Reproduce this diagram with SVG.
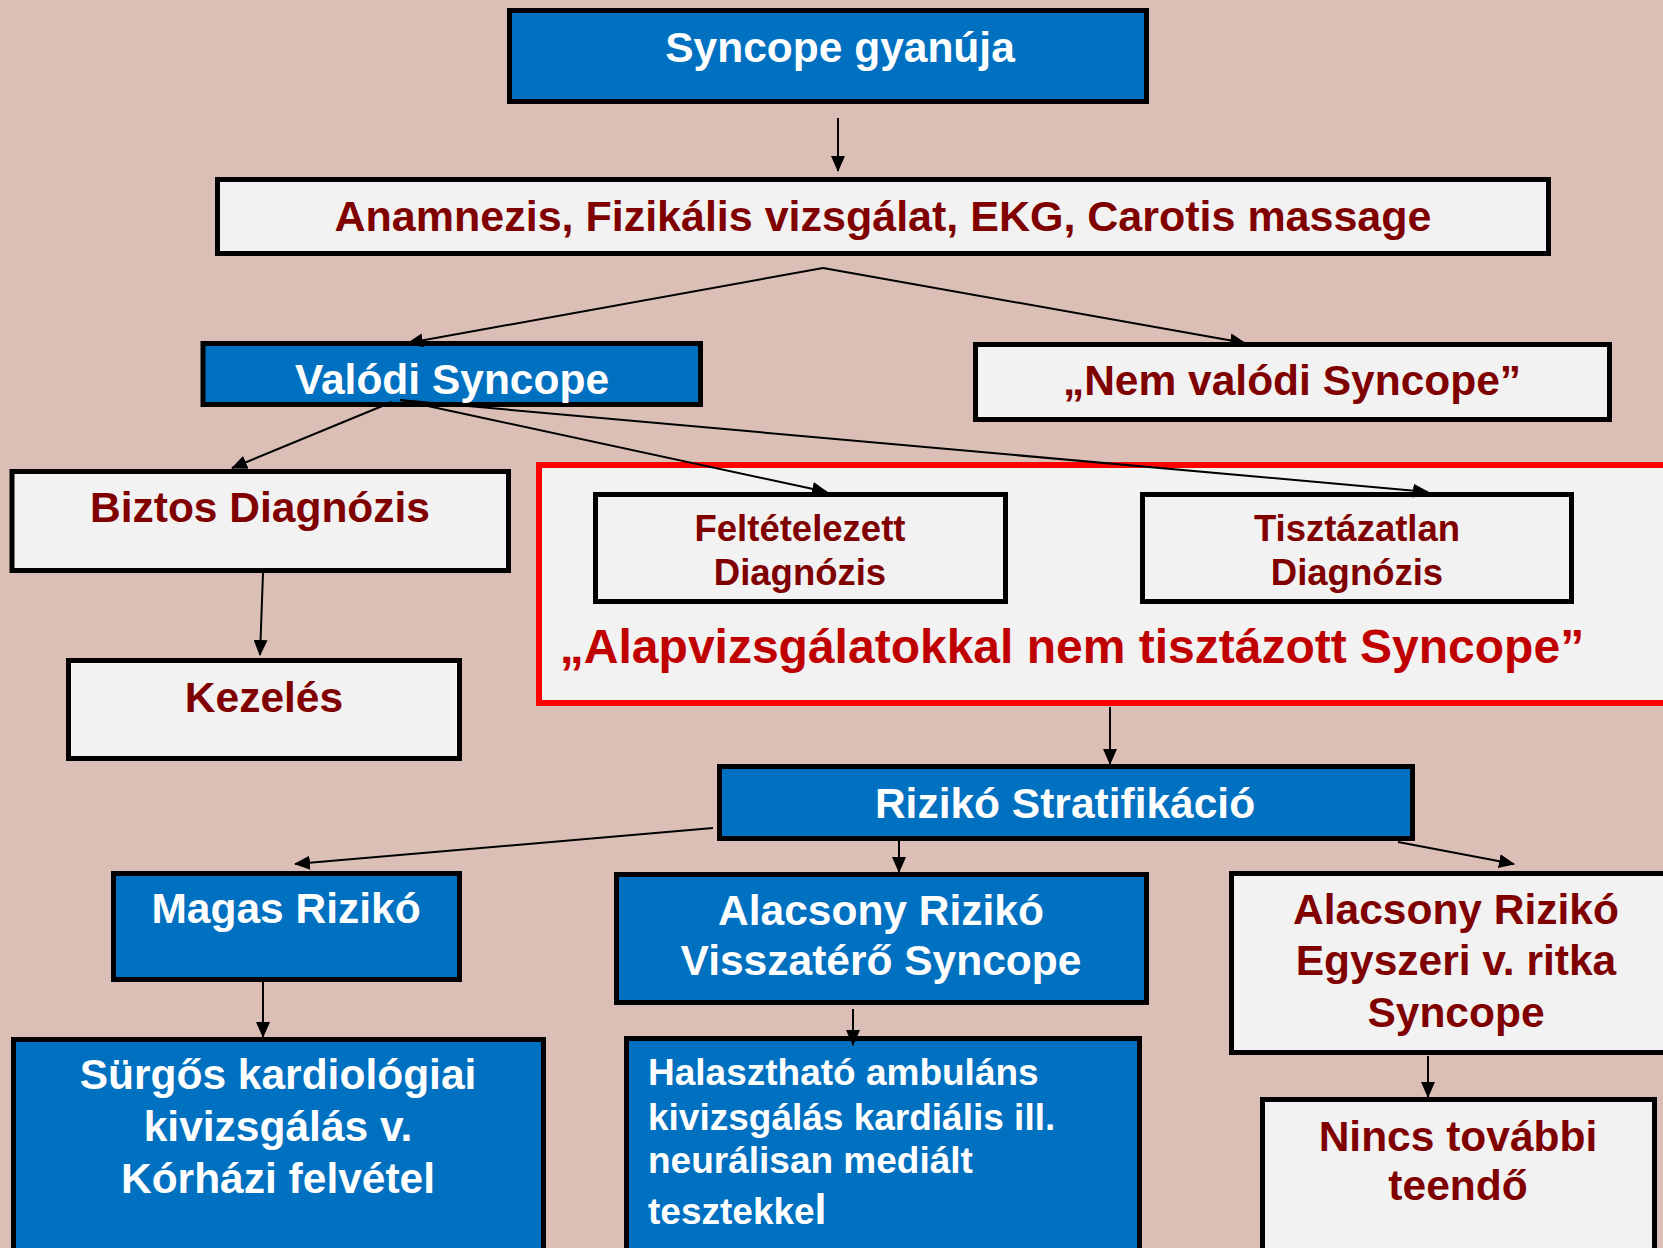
<svg xmlns="http://www.w3.org/2000/svg" width="1663" height="1248" viewBox="0 0 1663 1248">
<defs>
<marker id="ah" markerUnits="userSpaceOnUse" markerWidth="16" markerHeight="14" refX="15" refY="7" orient="auto">
<path d="M0,0 L16,7 L0,14 z" fill="#000"/>
</marker>
<style>
.box{stroke:#000;stroke-width:5}
.blue{fill:#0070C0}
.gray{fill:#F2F2F2}
.t{font-family:"Liberation Sans",Arial,sans-serif;font-weight:bold;text-anchor:middle}
.w{fill:#FFFFFF}
.r{fill:#800000}
.s42{font-size:42.5px}
.s36{font-size:36.5px}
.c{stroke:#000;stroke-width:2;fill:none;marker-end:url(#ah)}
</style>
</defs>
<rect x="0" y="0" width="1663" height="1248" fill="#DBBFB7"/>

<g id="red-group">
<rect x="539" y="465" width="1140" height="238" fill="#F2F2F2" stroke="#FF0000" stroke-width="6"/>
<text class="t" x="1072" y="663" font-size="48" fill="#C00000">„Alapvizsgálatokkal nem tisztázott Syncope”</text>
</g>

<g id="n-syncope">
<rect class="box blue" x="509.5" y="10.5" width="637" height="91"/>
<text class="t w s42" x="840" y="62">Syncope gyanúja</text>
</g>
<g id="n-anamnezis">
<rect class="box gray" x="217.5" y="179.5" width="1331" height="74"/>
<text class="t r" font-size="43" x="883" y="231">Anamnezis, Fizikális vizsgálat, EKG, Carotis massage</text>
</g>
<g id="n-valodi">
<rect class="box blue" x="203" y="343.5" width="497.5" height="61"/>
<text class="t w s42" x="452" y="394">Valódi Syncope</text>
</g>
<g id="n-nemvalodi">
<rect class="box gray" x="975.5" y="344.5" width="634" height="75"/>
<text class="t r s42" x="1292" y="395">„Nem valódi Syncope”</text>
</g>
<g id="n-biztos">
<rect class="box gray" x="12" y="471.5" width="496.5" height="99"/>
<text class="t r s42" x="260" y="522">Biztos Diagnózis</text>
</g>
<g id="n-kezeles">
<rect class="box gray" x="68.5" y="660.5" width="391" height="98"/>
<text class="t r s42" x="264" y="712">Kezelés</text>
</g>
<g id="n-feltetelezett">
<rect class="box gray" x="595.5" y="494.5" width="410" height="107"/>
<text class="t r s36" x="800" y="541">Feltételezett</text>
<text class="t r s36" x="800" y="585">Diagnózis</text>
</g>
<g id="n-tisztazatlan">
<rect class="box gray" x="1142.5" y="494.5" width="429" height="107"/>
<text class="t r s36" x="1357" y="541">Tisztázatlan</text>
<text class="t r s36" x="1357" y="585">Diagnózis</text>
</g>
<g id="n-rizikostrat">
<rect class="box blue" x="719.5" y="766.5" width="693" height="72"/>
<text class="t w s42" x="1065" y="818">Rizikó Stratifikáció</text>
</g>
<g id="n-magas">
<rect class="box blue" x="113.5" y="873.5" width="346" height="106"/>
<text class="t w s42" x="286" y="923">Magas Rizikó</text>
</g>
<g id="n-alacsony-vissza">
<rect class="box blue" x="616.5" y="874.5" width="530" height="128"/>
<text class="t w s42" x="881" y="925">Alacsony Rizikó</text>
<text class="t w s42" x="881" y="975">Visszatérő Syncope</text>
</g>
<g id="n-alacsony-egyszeri">
<rect class="box gray" x="1231.5" y="873.5" width="460" height="179"/>
<text class="t r s42" x="1456" y="924">Alacsony Rizikó</text>
<text class="t r s42" x="1456" y="975">Egyszeri v. ritka</text>
<text class="t r s42" x="1456" y="1027">Syncope</text>
</g>
<g id="n-surgos">
<rect class="box blue" x="13.5" y="1039.5" width="530" height="250"/>
<text class="t w s42" x="278" y="1089">Sürgős kardiológiai</text>
<text class="t w s42" x="278" y="1141">kivizsgálás v.</text>
<text class="t w s42" x="278" y="1193">Kórházi felvétel</text>
</g>
<g id="n-halaszthato">
<rect class="box blue" x="626.5" y="1038.5" width="513" height="250"/>
<text class="t w" font-size="37" x="648" y="1085" style="text-anchor:start">Halasztható ambuláns</text>
<text class="t w" font-size="37" x="648" y="1130" style="text-anchor:start">kivizsgálás kardiális ill.</text>
<text class="t w" font-size="37" x="648" y="1173" style="text-anchor:start">neurálisan mediált</text>
<text class="t w" font-size="37" x="648" y="1224" style="text-anchor:start">tesztekke<tspan font-size="43">l</tspan></text>
</g>
<g id="n-nincs">
<rect class="box gray" x="1262.5" y="1099.5" width="392" height="200"/>
<text class="t r s42" x="1458" y="1151">Nincs további</text>
<text class="t r s42" x="1458" y="1200">teendő</text>
</g>

<g id="connectors">
<line class="c" x1="838" y1="118" x2="838" y2="171"/>
<line class="c" x1="823" y1="268" x2="408" y2="343"/>
<line class="c" x1="823" y1="268" x2="1245" y2="343"/>
<line class="c" x1="392" y1="402" x2="232" y2="468"/>
<line class="c" x1="400" y1="400" x2="827" y2="492"/>
<line class="c" x1="400" y1="400" x2="1428" y2="492"/>
<line class="c" x1="263" y1="573" x2="260" y2="655"/>
<line class="c" x1="1110" y1="707" x2="1110" y2="764"/>
<line class="c" x1="713" y1="828" x2="295" y2="864"/>
<line class="c" x1="899" y1="841" x2="899" y2="872"/>
<line class="c" x1="1398" y1="842" x2="1514" y2="864"/>
<line class="c" x1="263" y1="982" x2="263" y2="1037"/>
<line class="c" x1="853" y1="1009" x2="853" y2="1045"/>
<line class="c" x1="1428" y1="1056" x2="1428" y2="1097"/>
</g>
</svg>
